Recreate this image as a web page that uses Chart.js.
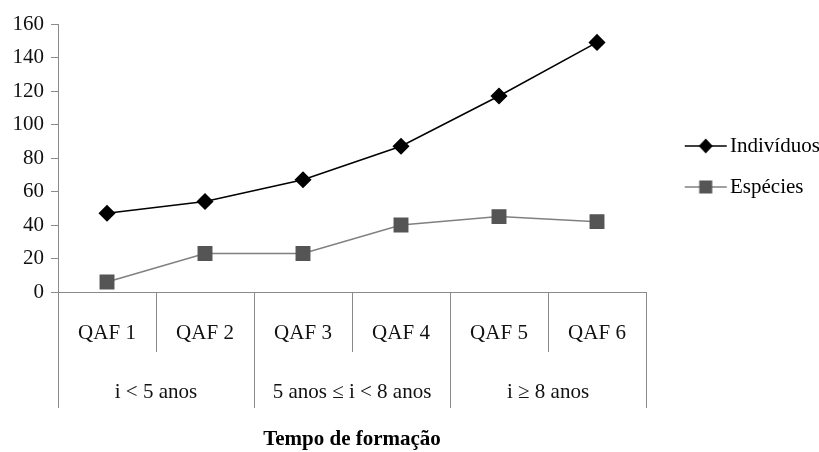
<!DOCTYPE html>
<html><head><meta charset="utf-8">
<script src="https://cdn.jsdelivr.net/npm/chart.js@4.4.1/dist/chart.umd.min.js"></script>
<style>html,body{margin:0;padding:0;background:#fff}canvas{display:block}</style>
</head><body>
<canvas id="c" width="819" height="452"></canvas>
<script>
const categories = ['QAF 1', 'QAF 2', 'QAF 3', 'QAF 4', 'QAF 5', 'QAF 6'];
const groupLabels = ['i < 5 anos', '5 anos \u2264 i < 8 anos', 'i \u2265 8 anos'];
const groupSpans = [2, 2, 2];
const seriesNames = ['Indiv\u00edduos', 'Esp\u00e9cies'];
const individuos = [47, 54, 67, 87, 117, 149];
const especies = [6, 23, 23, 40, 45, 42];
const yMin = 0, yMax = 160, yStep = 20;
const axisTitle = 'Tempo de forma\u00e7\u00e3o';

const FONT = '"Liberation Serif", "Times New Roman", serif';
const AXIS = '#8a8a8a';

function makeIcon(lineColor, markerColor, shape) {
  const c = document.createElement('canvas');
  c.width = 80; c.height = 22;
  const g = c.getContext('2d');
  g.strokeStyle = lineColor; g.lineWidth = 1.5;
  g.beginPath(); g.moveTo(32, 11); g.lineTo(74, 11); g.stroke();
  g.fillStyle = markerColor;
  if (shape === 'diamond') {
    g.beginPath(); g.moveTo(53, 3.5); g.lineTo(60, 11); g.lineTo(53, 18.5); g.lineTo(46, 11); g.closePath(); g.fill();
  } else {
    g.fillRect(46.5, 4.5, 13, 13);
  }
  return c;
}
const icons = [makeIcon('#000', '#000', 'diamond'), makeIcon('#808080', '#555555', 'square')];

const dividerPlugin = {
  id: 'dividers',
  afterDraw(chart) {
    const xs = chart.scales.x;
    const ctx = chart.ctx;
    const groupEdges = new Set([0]);
    let acc = 0;
    groupSpans.forEach(s => { acc += s; groupEdges.add(acc); });
    ctx.save();
    ctx.strokeStyle = AXIS; ctx.lineWidth = 1;
    for (let i = 0; i <= categories.length; i++) {
      const px = Math.round(xs.getPixelForValue(i - 0.5)) + 0.5;
      const len = groupEdges.has(i) ? 116 : 60;
      ctx.beginPath(); ctx.moveTo(px, xs.top); ctx.lineTo(px, xs.top + len); ctx.stroke();
    }
    ctx.restore();
  }
};

new Chart(document.getElementById('c'), {
  type: 'line',
  data: {
    labels: categories,
    datasets: [
      { label: seriesNames[0], data: individuos, borderColor: '#000', backgroundColor: '#000',
        borderWidth: 1.5, pointStyle: 'rectRot', pointRadius: 7.5, pointHoverRadius: 7.5, tension: 0, xAxisID: 'x' },
      { label: seriesNames[1], data: especies, borderColor: '#808080', backgroundColor: '#555555',
        pointBorderColor: '#555555', borderWidth: 1.5, pointStyle: 'rect', pointRadius: 9.5, pointHoverRadius: 9.5, tension: 0, xAxisID: 'x' }
    ]
  },
  options: {
    responsive: false,
    animation: false,
    devicePixelRatio: 1,
    layout: { padding: { left: 5.5, top: 24, right: 0, bottom: 0 } },
    plugins: {
      tooltip: { enabled: false },
      legend: {
        position: 'right',
        fullSize: false,
        maxWidth: 173,
        title: { display: true, text: '', font: { size: 10 }, padding: 2.5 },
        labels: {
          usePointStyle: true,
          pointStyleWidth: 53.5,
          padding: 20,
          color: '#000',
          font: { family: FONT, size: 21 },
          generateLabels(chart) {
            const items = Chart.defaults.plugins.legend.labels.generateLabels(chart);
            items.forEach((it, i) => { it.pointStyle = icons[i]; });
            return items;
          }
        }
      }
    },
    scales: {
      y: {
        min: yMin, max: yMax,
        ticks: { stepSize: yStep, autoSkip: false, padding: 7, color: '#111', font: { family: FONT, size: 21 } },
        grid: { display: true, drawOnChartArea: false, tickLength: 7, color: AXIS },
        border: { display: true, color: AXIS }
      },
      x: {
        type: 'category',
        position: 'bottom',
        offset: true,
        weight: 0,
        ticks: { padding: 28.4, color: '#111', maxRotation: 0, autoSkip: false, font: { family: FONT, size: 21 } },
        grid: { display: false, drawTicks: false, offset: true },
        border: { display: true, color: AXIS }
      },
      x2: {
        type: 'category',
        position: 'bottom',
        labels: groupLabels,
        offset: true,
        weight: 1,
        ticks: { padding: 5.4, color: '#111', maxRotation: 0, autoSkip: false, font: { family: FONT, size: 21 } },
        grid: { display: false, drawTicks: false },
        border: { display: false },
        title: { display: true, text: axisTitle, color: '#000', font: { family: FONT, size: 21, weight: 'bold' }, padding: { top: 16.8, bottom: 0 } }
      }
    }
  },
  plugins: [dividerPlugin]
});
</script>
</body></html>
